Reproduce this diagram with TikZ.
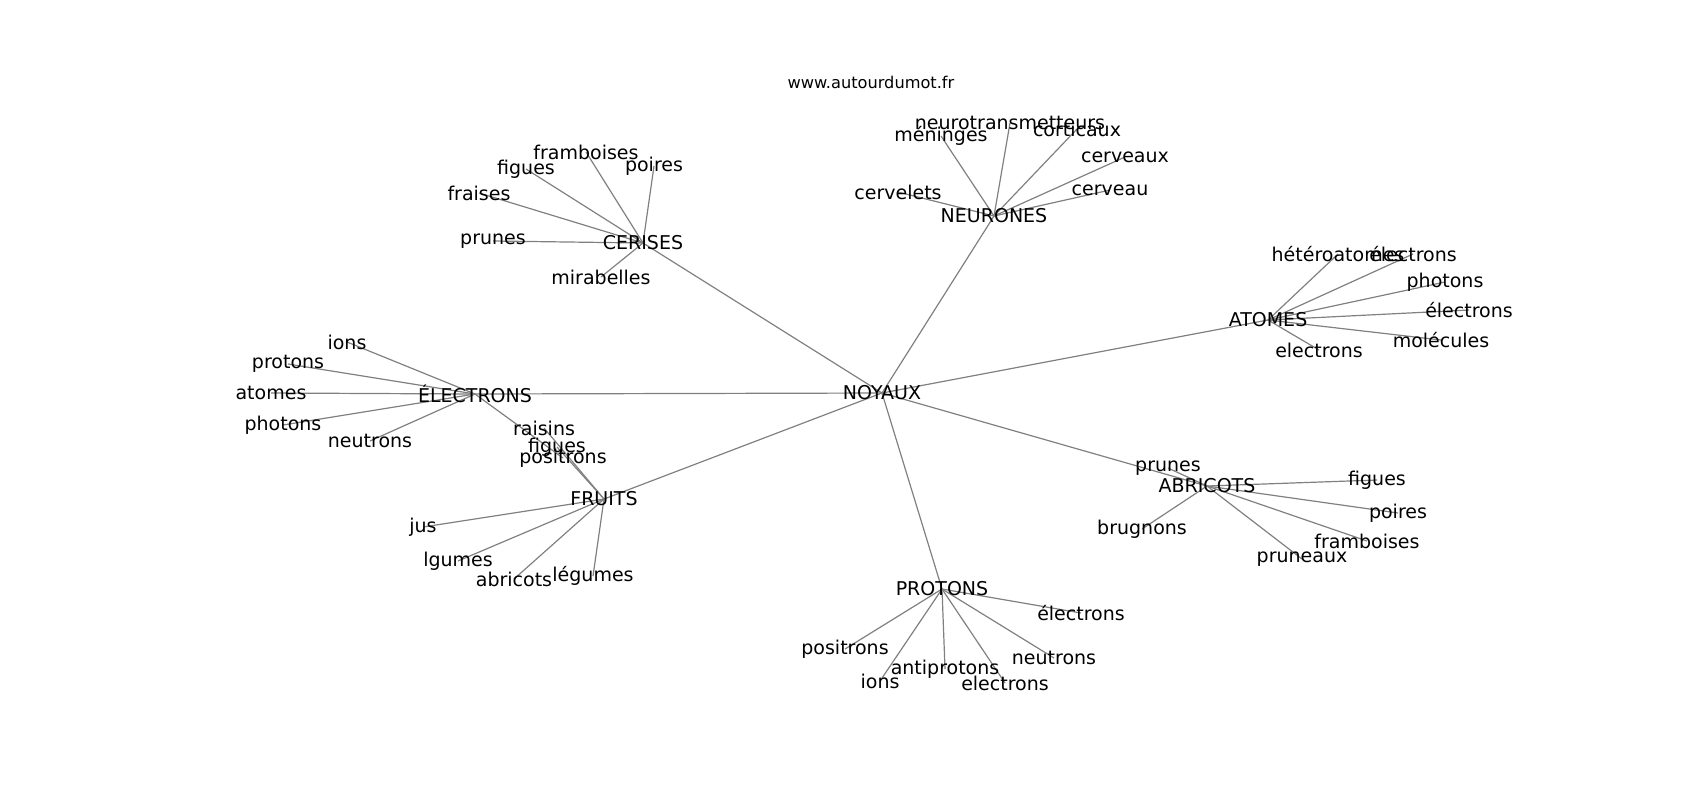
\documentclass[tikz,border=0pt]{standalone}
\usepackage{fontspec}
\setmainfont{DejaVu Sans}
\begin{document}
\begin{tikzpicture}[x=0.5pt,y=-0.5pt,
  lbl/.style={inner sep=0pt,font=\fontsize{9.5pt}{11pt}\selectfont,text=black},
  ttl/.style={inner sep=0pt,font=\fontsize{8.1pt}{10pt}\selectfont,text=black},
  edge/.style={draw=black!50,line width=0.6pt}]
\useasboundingbox (0,0) rectangle (1700,800);
\node[ttl] (title) at (871,82) {www.autourdumot.fr};
% hubs
\coordinate (noy) at (882,393);
\coordinate (cer) at (643,243);
\coordinate (neu) at (994,216);
\coordinate (ato) at (1268,320);
\coordinate (ele) at (475,394);
\coordinate (fru) at (604,499);
\coordinate (abr) at (1207,486);
\coordinate (pro) at (942,589);
% leaves CERISES
\coordinate (c1) at (586,152);
\coordinate (c2) at (654,166);
\coordinate (c3) at (526,169);
\coordinate (c4) at (479,193);
\coordinate (c5) at (493,241);
\coordinate (c6) at (601,277);
% NEURONES
\coordinate (n1) at (1010,123);
\coordinate (n2) at (941,136);
\coordinate (n3) at (1077,129);
\coordinate (n4) at (1125,157);
\coordinate (n5) at (898,192);
\coordinate (n6) at (1110,190);
% ATOMES
\coordinate (a1) at (1338,254);
\coordinate (a2) at (1413,254);
\coordinate (a3) at (1445,282);
\coordinate (a4) at (1469,310);
\coordinate (a5) at (1441,340);
\coordinate (a6) at (1319,350);
% ELECTRONS
\coordinate (e1) at (347,342);
\coordinate (e2) at (288,364);
\coordinate (e3) at (271,393);
\coordinate (e4) at (283,425);
\coordinate (e5) at (370,441);
\coordinate (e6) at (563,458);
% FRUITS
\coordinate (f1) at (544,428);
\coordinate (f2) at (557,447);
\coordinate (f3) at (423,527);
\coordinate (f4) at (458,561);
\coordinate (f5) at (514,579);
\coordinate (f6) at (593,576);
% ABRICOTS
\coordinate (b1) at (1168,468);
\coordinate (b2) at (1377,480);
\coordinate (b3) at (1398,513);
\coordinate (b4) at (1367,541);
\coordinate (b5) at (1302,559);
\coordinate (b6) at (1142,529);
% PROTONS
\coordinate (p1) at (1081,613);
\coordinate (p2) at (845,649);
\coordinate (p3) at (880,681);
\coordinate (p4) at (945,669);
\coordinate (p5) at (1005,683);
\coordinate (p6) at (1054,658);
% edges
\foreach \h in {cer,neu,ato,ele,fru,abr,pro} \draw[edge] (noy) -- (\h);
\foreach \l in {c1,c2,c3,c4,c5,c6} \draw[edge] (cer) -- (\l);
\foreach \l in {n1,n2,n3,n4,n5,n6} \draw[edge] (neu) -- (\l);
\foreach \l in {a1,a2,a3,a4,a5,a6} \draw[edge] (ato) -- (\l);
\foreach \l in {e1,e2,e3,e4,e5,e6} \draw[edge] (ele) -- (\l);
\foreach \l in {f1,f2,f3,f4,f5,f6} \draw[edge] (fru) -- (\l);
\foreach \l in {b1,b2,b3,b4,b5,b6} \draw[edge] (abr) -- (\l);
\foreach \l in {p1,p2,p3,p4,p5,p6} \draw[edge] (pro) -- (\l);
% labels
\node[lbl] at (noy) {NOYAUX};
\node[lbl] at (cer) {CERISES};
\node[lbl] at (neu) {NEURONES};
\node[lbl] at (ato) {ATOMES};
\node[lbl] at (ele) {ÉLECTRONS};
\node[lbl] at (fru) {FRUITS};
\node[lbl] at (abr) {ABRICOTS};
\node[lbl] at (pro) {PROTONS};
\node[lbl] at (c1) {framboises};
\node[lbl] at (c2) {poires};
\node[lbl] at (c3) {figues};
\node[lbl] at (c4) {fraises};
\node[lbl] at (c5) {prunes};
\node[lbl] at (c6) {mirabelles};
\node[lbl] at (n1) {neurotransmetteurs};
\node[lbl] at (n2) {méninges};
\node[lbl] at (n3) {corticaux};
\node[lbl] at (n4) {cerveaux};
\node[lbl] at (n5) {cervelets};
\node[lbl] at (n6) {cerveau};
\node[lbl] at (a1) {hétéroatomes};
\node[lbl] at (a2) {électrons};
\node[lbl] at (a3) {photons};
\node[lbl] at (a4) {électrons};
\node[lbl] at (a5) {molécules};
\node[lbl] at (a6) {electrons};
\node[lbl] at (e1) {ions};
\node[lbl] at (e2) {protons};
\node[lbl] at (e3) {atomes};
\node[lbl] at (e4) {photons};
\node[lbl] at (e5) {neutrons};
\node[lbl] at (e6) {positrons};
\node[lbl] at (f1) {raisins};
\node[lbl] at (f2) {figues};
\node[lbl] at (f3) {jus};
\node[lbl] at (f4) {lgumes};
\node[lbl] at (f5) {abricots};
\node[lbl] at (f6) {légumes};
\node[lbl] at (b1) {prunes};
\node[lbl] at (b2) {figues};
\node[lbl] at (b3) {poires};
\node[lbl] at (b4) {framboises};
\node[lbl] at (b5) {pruneaux};
\node[lbl] at (b6) {brugnons};
\node[lbl] at (p1) {électrons};
\node[lbl] at (p2) {positrons};
\node[lbl] at (p3) {ions};
\node[lbl] at (p4) {antiprotons};
\node[lbl] at (p5) {electrons};
\node[lbl] at (p6) {neutrons};
\end{tikzpicture}
\end{document}
